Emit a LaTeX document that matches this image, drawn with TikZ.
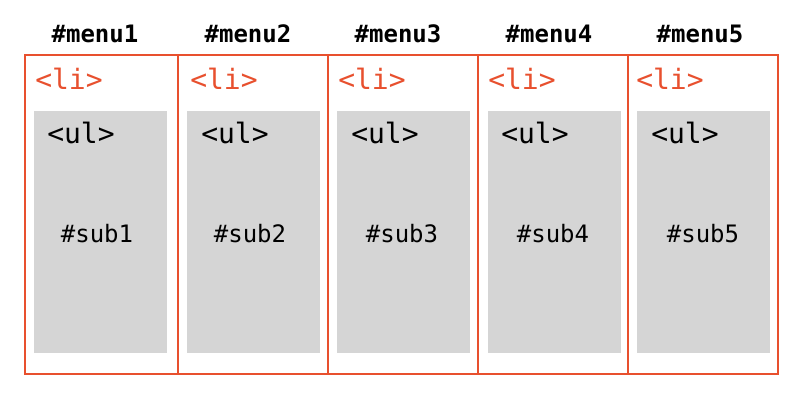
\documentclass[tikz,border=0pt]{standalone}
\usepackage{fontspec}
\setmonofont{DejaVu Sans Mono}
\definecolor{lired}{HTML}{E8502E}
\definecolor{ulgray}{HTML}{D5D5D5}
\begin{document}
\begin{tikzpicture}[x=0.75pt,y=-0.75pt,
  libox/.style={draw=lired,line width=1.5pt,inner sep=0pt,outer sep=0pt,minimum height=239.25pt},
  ulbox/.style={fill=ulgray,draw=none,inner sep=0pt,outer sep=0pt,minimum width=99.75pt,minimum height=181.5pt},
  menulbl/.style={font=\ttfamily\bfseries\fontsize{18pt}{20pt}\selectfont,inner sep=0pt,text=black},
  lilbl/.style={font=\ttfamily\fontsize{21pt}{24pt}\selectfont,inner sep=0pt,text=lired,anchor=west},
  ullbl/.style={font=\ttfamily\fontsize{21pt}{24pt}\selectfont,inner sep=0pt,text=black,anchor=west},
  sublbl/.style={font=\ttfamily\fontsize{18pt}{20pt}\selectfont,inner sep=0pt,text=black}]
\useasboundingbox (0,0) rectangle (800,400);
\fill[white] (0,0) rectangle (800,400);
% li boxes
\node[libox,minimum width=114.75pt] (li1) at (101.5,214.5) {};
\node[libox,minimum width=112.5pt] (li2) at (253,214.5) {};
\node[libox,minimum width=112.5pt] (li3) at (403,214.5) {};
\node[libox,minimum width=112.5pt] (li4) at (553,214.5) {};
\node[libox,minimum width=112.5pt] (li5) at (703,214.5) {};
% ul boxes
\node[ulbox] (ul1) at (100.5,232) {};
\node[ulbox] (ul2) at (253.5,232) {};
\node[ulbox] (ul3) at (403.5,232) {};
\node[ulbox] (ul4) at (554.5,232) {};
\node[ulbox] (ul5) at (703.5,232) {};
% menu labels
\node[menulbl] (m1) at (95,34) {\#menu1};
\node[menulbl] (m2) at (248,34) {\#menu2};
\node[menulbl] (m3) at (398,34) {\#menu3};
\node[menulbl] (m4) at (549,34) {\#menu4};
\node[menulbl] (m5) at (700,34) {\#menu5};
% li labels
\node[lilbl] (l1) at (35,79) {<li>};
\node[lilbl] (l2) at (190,79) {<li>};
\node[lilbl] (l3) at (338,79) {<li>};
\node[lilbl] (l4) at (488,79) {<li>};
\node[lilbl] (l5) at (636,79) {<li>};
% ul labels
\node[ullbl] (u1) at (47,133) {<ul>};
\node[ullbl] (u2) at (201,133) {<ul>};
\node[ullbl] (u3) at (351,133) {<ul>};
\node[ullbl] (u4) at (501,133) {<ul>};
\node[ullbl] (u5) at (651,133) {<ul>};
% sub labels
\node[sublbl] (s1) at (97,234) {\#sub1};
\node[sublbl] (s2) at (250,234) {\#sub2};
\node[sublbl] (s3) at (402,234) {\#sub3};
\node[sublbl] (s4) at (553,234) {\#sub4};
\node[sublbl] (s5) at (703,234) {\#sub5};
\end{tikzpicture}
\end{document}
